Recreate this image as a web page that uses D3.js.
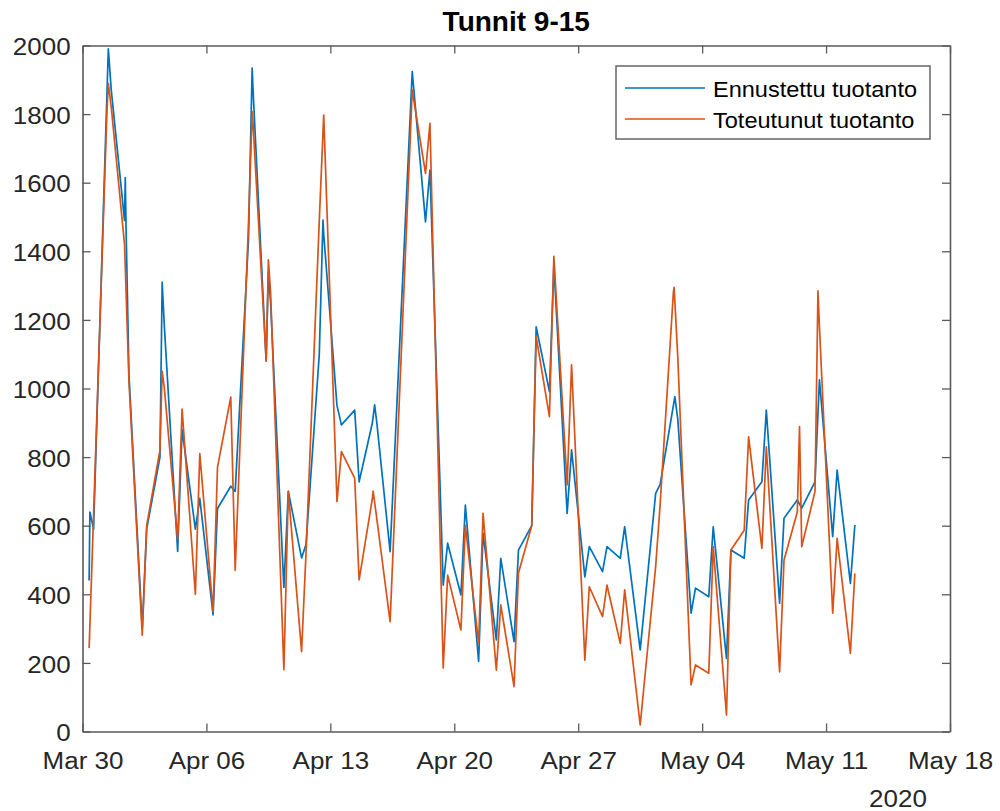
<!DOCTYPE html>
<html>
<head>
<meta charset="utf-8">
<script src="https://cdn.jsdelivr.net/npm/d3@7"></script>
<style>
  html, body { margin: 0; padding: 0; background: #fff; }
  svg { display: block; }
  text { font-family: "Liberation Sans", Arial, Helvetica, sans-serif; }
</style>
</head>
<body>
<svg id="chart" width="1000" height="811"></svg>
<script>
// Hourly production, hours 9-15 (vertices of the hourly traces)
const forecast = [
  ["2020-03-30 09", 440], ["2020-03-30 10", 640], ["2020-03-30 15", 590],
  ["2020-03-31 09", 1850], ["2020-03-31 11", 1990], ["2020-03-31 15", 1870],
  ["2020-04-01 09", 1490], ["2020-04-01 10", 1615], ["2020-04-01 11", 1475], ["2020-04-01 15", 1040],
  ["2020-04-02 09", 300], ["2020-04-02 15", 590],
  ["2020-04-03 09", 800], ["2020-04-03 12", 1310], ["2020-04-03 15", 1180],
  ["2020-04-04 09", 525], ["2020-04-04 15", 880],
  ["2020-04-05 09", 590], ["2020-04-05 15", 680],
  ["2020-04-06 09", 340], ["2020-04-06 15", 650],
  ["2020-04-07 09", 715], ["2020-04-07 15", 700],
  ["2020-04-08 09", 1433], ["2020-04-08 14", 1934], ["2020-04-08 15", 1880],
  ["2020-04-09 09", 1080], ["2020-04-09 12", 1340], ["2020-04-09 15", 1250],
  ["2020-04-10 09", 420], ["2020-04-10 15", 700],
  ["2020-04-11 09", 506], ["2020-04-11 15", 545],
  ["2020-04-12 09", 1100], ["2020-04-12 14", 1491], ["2020-04-12 15", 1450],
  ["2020-04-13 09", 950], ["2020-04-13 15", 894],
  ["2020-04-14 09", 937], ["2020-04-14 15", 728],
  ["2020-04-15 09", 900], ["2020-04-15 12", 952], ["2020-04-15 15", 900],
  ["2020-04-16 09", 524],
  ["2020-04-17 15", 1924],
  ["2020-04-18 09", 1486], ["2020-04-18 15", 1637],
  ["2020-04-19 09", 427], ["2020-04-19 15", 549],
  ["2020-04-20 09", 398], ["2020-04-20 15", 660],
  ["2020-04-21 09", 204], ["2020-04-21 15", 578],
  ["2020-04-22 09", 267], ["2020-04-22 15", 505],
  ["2020-04-23 09", 262], ["2020-04-23 15", 529],
  ["2020-04-24 09", 600], ["2020-04-24 15", 1180],
  ["2020-04-25 09", 991], ["2020-04-25 15", 1360],
  ["2020-04-26 09", 636], ["2020-04-26 15", 821],
  ["2020-04-27 09", 451], ["2020-04-27 15", 539],
  ["2020-04-28 09", 466], ["2020-04-28 15", 539],
  ["2020-04-29 09", 505], ["2020-04-29 15", 597],
  ["2020-04-30 12", 238],
  ["2020-05-01 09", 694], ["2020-05-01 15", 720],
  ["2020-05-02 09", 950], ["2020-05-02 11", 976], ["2020-05-02 15", 910],
  ["2020-05-03 09", 345], ["2020-05-03 15", 418],
  ["2020-05-04 09", 393], ["2020-05-04 15", 597],
  ["2020-05-05 09", 213], ["2020-05-05 15", 529],
  ["2020-05-06 09", 505], ["2020-05-06 15", 675],
  ["2020-05-07 09", 728], ["2020-05-07 15", 937],
  ["2020-05-08 09", 374], ["2020-05-08 15", 622],
  ["2020-05-09 09", 675], ["2020-05-09 15", 651],
  ["2020-05-10 09", 728], ["2020-05-10 15", 1025],
  ["2020-05-11 09", 568], ["2020-05-11 15", 762],
  ["2020-05-12 09", 432], ["2020-05-12 15", 602]
];

const actual = [
  ["2020-03-30 09", 243], ["2020-03-30 15", 630],
  ["2020-03-31 09", 1800], ["2020-03-31 11", 1890], ["2020-03-31 15", 1820],
  ["2020-04-01 09", 1420], ["2020-04-01 15", 1020],
  ["2020-04-02 09", 281], ["2020-04-02 15", 600],
  ["2020-04-03 09", 820], ["2020-04-03 12", 1050], ["2020-04-03 15", 1000],
  ["2020-04-04 09", 560], ["2020-04-04 15", 940],
  ["2020-04-05 09", 400], ["2020-04-05 15", 810],
  ["2020-04-06 09", 350], ["2020-04-06 15", 770],
  ["2020-04-07 09", 975], ["2020-04-07 15", 470],
  ["2020-04-08 09", 1480], ["2020-04-08 14", 1807], ["2020-04-08 15", 1780],
  ["2020-04-09 09", 1080], ["2020-04-09 12", 1375], ["2020-04-09 15", 1280],
  ["2020-04-10 09", 180], ["2020-04-10 15", 700],
  ["2020-04-11 09", 233], ["2020-04-11 15", 520],
  ["2020-04-12 09", 1490], ["2020-04-12 15", 1797],
  ["2020-04-13 09", 670], ["2020-04-13 15", 816],
  ["2020-04-14 09", 739], ["2020-04-14 15", 442],
  ["2020-04-15 09", 680], ["2020-04-15 10", 701], ["2020-04-15 15", 620],
  ["2020-04-16 09", 320],
  ["2020-04-17 15", 1870],
  ["2020-04-18 09", 1627], ["2020-04-18 15", 1773],
  ["2020-04-19 09", 185], ["2020-04-19 15", 456],
  ["2020-04-20 09", 296], ["2020-04-20 15", 600],
  ["2020-04-21 09", 257], ["2020-04-21 15", 636],
  ["2020-04-22 09", 179], ["2020-04-22 15", 369],
  ["2020-04-23 09", 131], ["2020-04-23 15", 462],
  ["2020-04-24 09", 600], ["2020-04-24 15", 1151],
  ["2020-04-25 09", 918], ["2020-04-25 15", 1385],
  ["2020-04-26 09", 719], ["2020-04-26 15", 1069],
  ["2020-04-27 09", 208], ["2020-04-27 15", 422],
  ["2020-04-28 09", 335], ["2020-04-28 15", 427],
  ["2020-04-29 09", 257], ["2020-04-29 15", 413],
  ["2020-04-30 12", 19],
  ["2020-05-01 09", 481], ["2020-05-01 15", 660],
  ["2020-05-02 09", 1280], ["2020-05-02 10", 1295], ["2020-05-02 15", 1090],
  ["2020-05-03 09", 136], ["2020-05-03 15", 194],
  ["2020-05-04 09", 170], ["2020-05-04 15", 539],
  ["2020-05-05 09", 48], ["2020-05-05 15", 529],
  ["2020-05-06 09", 587], ["2020-05-06 15", 859],
  ["2020-05-07 09", 534], ["2020-05-07 15", 830],
  ["2020-05-08 09", 174], ["2020-05-08 15", 500],
  ["2020-05-09 09", 640], ["2020-05-09 12", 889], ["2020-05-09 15", 539],
  ["2020-05-10 09", 700], ["2020-05-10 13", 1285], ["2020-05-10 15", 1180],
  ["2020-05-11 09", 345], ["2020-05-11 15", 563],
  ["2020-05-12 09", 228], ["2020-05-12 15", 461]
];

const xTickDates = ["2020-03-30", "2020-04-06", "2020-04-13", "2020-04-20",
                    "2020-04-27", "2020-05-04", "2020-05-11", "2020-05-18"];
const yTickValues = [0, 200, 400, 600, 800, 1000, 1200, 1400, 1600, 1800, 2000];
const seriesNames = ["Ennustettu tuotanto", "Toteutunut tuotanto"];
const seriesColors = ["#0072BD", "#D95319"];
const titleText = "Tunnit 9-15";
const yearText = "2020";

const parseHour = d3.timeParse("%Y-%m-%d %H");
const parseDay = d3.timeParse("%Y-%m-%d");

const svg = d3.select("#chart");
const plotLeft = 82.5, plotRight = 950, plotTop = 45.5, plotBottom = 731.5;
const axisColor = "#5a5a5a";
const textColor = "#262626";
const tickStretch = 1.13;

const x = d3.scaleTime()
  .domain([parseDay(xTickDates[0]), parseDay(xTickDates[xTickDates.length - 1])])
  .range([plotLeft, plotRight]);
const y = d3.scaleLinear().domain([0, 2000]).range([plotBottom, plotTop]);

const xTicks = xTickDates.map(parseDay);
const fmt = d3.timeFormat("%b %d");

function styleAxis(g) {
  g.select(".domain").attr("stroke", axisColor).attr("stroke-width", 1.6);
  g.selectAll(".tick line").attr("stroke", axisColor).attr("stroke-width", 1.3);
  g.selectAll(".tick text")
    .attr("fill", textColor)
    .style("font-size", "23px")
    .attr("transform", `scale(${tickStretch},1)`);
}

// bottom axis with labels
svg.append("g")
  .attr("transform", `translate(0,${plotBottom})`)
  .call(d3.axisBottom(x).tickValues(xTicks).tickFormat(fmt)
    .tickSizeInner(-8).tickSizeOuter(0).tickPadding(21))
  .call(styleAxis);

// top axis (ticks only)
svg.append("g")
  .attr("transform", `translate(0,${plotTop})`)
  .call(d3.axisTop(x).tickValues(xTicks).tickFormat("")
    .tickSizeInner(-8).tickSizeOuter(0))
  .call(styleAxis);

// left axis with labels
svg.append("g")
  .attr("transform", `translate(${plotLeft},0)`)
  .call(d3.axisLeft(y).tickValues(yTickValues).tickFormat(d3.format("d"))
    .tickSizeInner(-8).tickSizeOuter(0).tickPadding(10.5))
  .call(styleAxis)
  .call(g => g.selectAll(".tick text").attr("dy", "0.40em"));

// right axis (ticks only)
svg.append("g")
  .attr("transform", `translate(${plotRight},0)`)
  .call(d3.axisRight(y).tickValues(yTickValues).tickFormat("")
    .tickSizeInner(-8).tickSizeOuter(0))
  .call(styleAxis);

// year label under the time axis
svg.append("g")
  .attr("transform", `translate(898,806.5) scale(${tickStretch},1)`)
  .append("text")
  .attr("text-anchor", "middle")
  .attr("fill", textColor)
  .style("font-size", "23px")
  .text(yearText);

// title
svg.append("text")
  .attr("x", (plotLeft + plotRight) / 2)
  .attr("y", 30.5)
  .attr("text-anchor", "middle")
  .attr("fill", "#000")
  .style("font-size", "28px")
  .style("font-weight", "bold")
  .text(titleText);

// series lines
const line = d3.line()
  .x(d => x(parseHour(d[0])))
  .y(d => y(d[1]));

[forecast, actual].forEach((series, i) => {
  svg.append("path")
    .datum(series)
    .attr("fill", "none")
    .attr("stroke", seriesColors[i])
    .attr("stroke-width", 1.7)
    .attr("stroke-linejoin", "round")
    .attr("d", line);
});

// legend
const legend = svg.append("g").attr("transform", "translate(616,66)");
legend.append("rect")
  .attr("width", 314).attr("height", 73)
  .attr("fill", "#fff")
  .attr("stroke", axisColor).attr("stroke-width", 1.4);
seriesNames.forEach((name, i) => {
  const cy = 22 + i * 31;
  legend.append("line")
    .attr("x1", 9).attr("x2", 89)
    .attr("y1", cy).attr("y2", cy)
    .attr("stroke", seriesColors[i]).attr("stroke-width", 1.7);
  legend.append("g")
    .attr("transform", `translate(97,${cy + 8.5}) scale(1.07,1)`)
    .append("text")
    .attr("fill", "#000")
    .style("font-size", "22px")
    .text(name);
});
</script>
</body>
</html>
